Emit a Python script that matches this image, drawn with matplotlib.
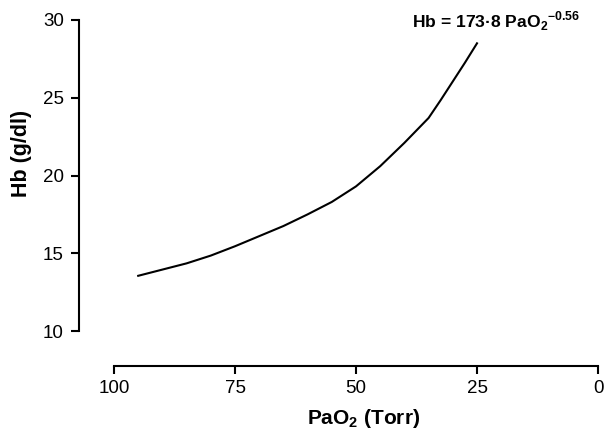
import matplotlib
matplotlib.use("Agg")
import matplotlib.pyplot as plt

plt.rcParams['font.family'] = ['Liberation Sans', 'DejaVu Sans']
plt.rcParams['mathtext.fontset'] = 'custom'
plt.rcParams['mathtext.rm'] = 'Liberation Sans'
plt.rcParams['mathtext.bf'] = 'Liberation Sans:bold'

# values
pao2 = [95, 90, 85, 80, 75, 70, 65, 60, 55, 50, 45, 40, 35, 32.5, 30, 27.5, 25]
hb = [13.55, 13.95, 14.35, 14.85, 15.45, 16.1, 16.75, 17.5, 18.3, 19.3, 20.6, 22.1, 23.7, 24.85, 26.05, 27.25, 28.5]

x_ticks = [100, 75, 50, 25, 0]
y_ticks = [10, 15, 20, 25, 30]

fig = plt.figure(figsize=(6.06, 4.29), dpi=100)
W, H = 606, 429
ax = fig.add_axes([114 / W, (H - 331) / H, (598 - 114) / W, (331 - 20) / H])

ax.plot(pao2, hb, color='black', lw=1.5)

ax.set_xlim(100, 0)
ax.set_ylim(10, 30)
ax.set_xticks(x_ticks)
ax.set_yticks(y_ticks)

for side in ['top', 'right']:
    ax.spines[side].set_visible(False)
for side in ['left', 'bottom']:
    ax.spines[side].set_position(('outward', 25.2))
    ax.spines[side].set_linewidth(1.5)
ax.tick_params(direction='out', length=6, width=1.5, labelsize=13.5, pad=4)
ax.tick_params(axis='y', pad=5)

ax.set_xlabel('PaO$_\\mathbf{2}$ (Torr)', fontsize=15, fontweight='bold')
ax.xaxis.set_label_coords(0.515, -0.245)
ax.set_ylabel('Hb (g/dl)', fontsize=15.5, fontweight='bold')
ax.yaxis.set_label_coords(-0.17, 0.572)

ax.text(0.963, 29.55, 'Hb = 173·8 PaO$_\\mathbf{2}$$^\\mathbf{-0.56}$',
        transform=ax.get_yaxis_transform(), ha='right', va='baseline',
        fontsize=12.6, fontweight='bold')

fig.savefig('out.png', dpi=100)
